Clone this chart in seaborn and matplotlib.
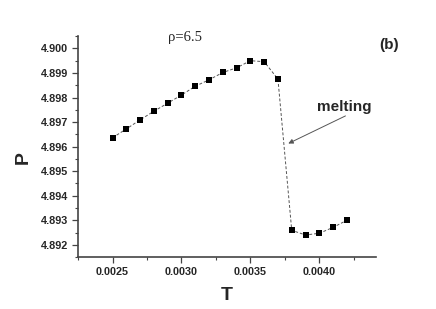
import numpy as np
import pandas as pd
import matplotlib
matplotlib.use('Agg')
import matplotlib.pyplot as plt
import seaborn as sns

# data
T = [0.0025, 0.0026, 0.0027, 0.0028, 0.0029, 0.0030, 0.0031, 0.0032, 0.0033,
     0.0034, 0.0035, 0.0036, 0.0037, 0.0038, 0.0039, 0.0040, 0.0041, 0.0042]
P = [4.89636, 4.89672, 4.89709, 4.89744, 4.89777, 4.89810, 4.89846, 4.89872, 4.89902,
     4.89921, 4.89950, 4.89946, 4.89875, 4.89259, 4.89240, 4.89247, 4.89271, 4.89300]
xticks = [0.0025, 0.0030, 0.0035, 0.0040]
yticks = [4.892, 4.893, 4.894, 4.895, 4.896, 4.897, 4.898, 4.899, 4.900]

df = pd.DataFrame({'T': T, 'P': P})

sns.set_style('ticks')
plt.rcParams['font.family'] = ['Liberation Sans', 'DejaVu Sans']

fig = plt.figure(figsize=(4.36, 3.09), dpi=100)
ax = fig.add_axes([0.179, 0.168, 0.683, 0.715])

sns.lineplot(data=df, x='T', y='P', ax=ax, color='#555555', lw=0.7,
             linestyle=(0, (3, 2)), sort=False)
sns.scatterplot(data=df, x='T', y='P', ax=ax, marker='s', s=16, color='black',
                edgecolor='black', linewidth=0, zorder=3)

ax.set_xlim(0.0023, 0.00441)
ax.set_ylim(4.89151, 4.90047)
ax.set_xticks(xticks)
ax.set_xticklabels([f'{v:.4f}' for v in xticks])
ax.set_yticks(yticks)
ax.set_yticklabels([f'{v:.3f}' for v in yticks])
ax.set_xticks(np.arange(0.00225, 0.0044, 0.0005), minor=True)
ax.set_yticks(np.arange(4.8915, 4.9005, 0.001), minor=True)

sns.despine(ax=ax)
for s in ['left', 'bottom']:
    ax.spines[s].set_color('#444444')
    ax.spines[s].set_linewidth(1.2)
ax.tick_params(which='major', direction='out', length=4, width=0.9, color='#444444',
               labelsize=7.8, pad=3)
ax.tick_params(which='minor', direction='out', length=2, width=0.8, color='#444444')
for lab in ax.get_xticklabels() + ax.get_yticklabels():
    lab.set_fontweight('bold')

ax.set_xlabel('T', fontsize=14, fontweight='bold')
ax.set_ylabel('P', fontsize=14, fontweight='bold')
ax.xaxis.set_label_coords(0.5, -0.134)
ax.yaxis.set_label_coords(-0.155, 0.45)

ax.text(0.302, 0.979, 'ρ=6.5', transform=ax.transAxes, fontsize=10.5,
        family='Liberation Serif', va='baseline')
ax.text(1.013, 0.943, '(b)', transform=ax.transAxes, fontsize=11,
        fontweight='bold', va='baseline')
ax.text(0.802, 0.662, 'melting', transform=ax.transAxes, fontsize=11,
        fontweight='bold', va='baseline')
ax.annotate('', xy=(0.706, 0.514), xytext=(0.898, 0.639),
            xycoords='axes fraction', textcoords='axes fraction',
            arrowprops=dict(arrowstyle='-|>', color='#555555', lw=0.7,
                            mutation_scale=7, shrinkA=0, shrinkB=0))

fig.savefig('out.png', dpi=100)
